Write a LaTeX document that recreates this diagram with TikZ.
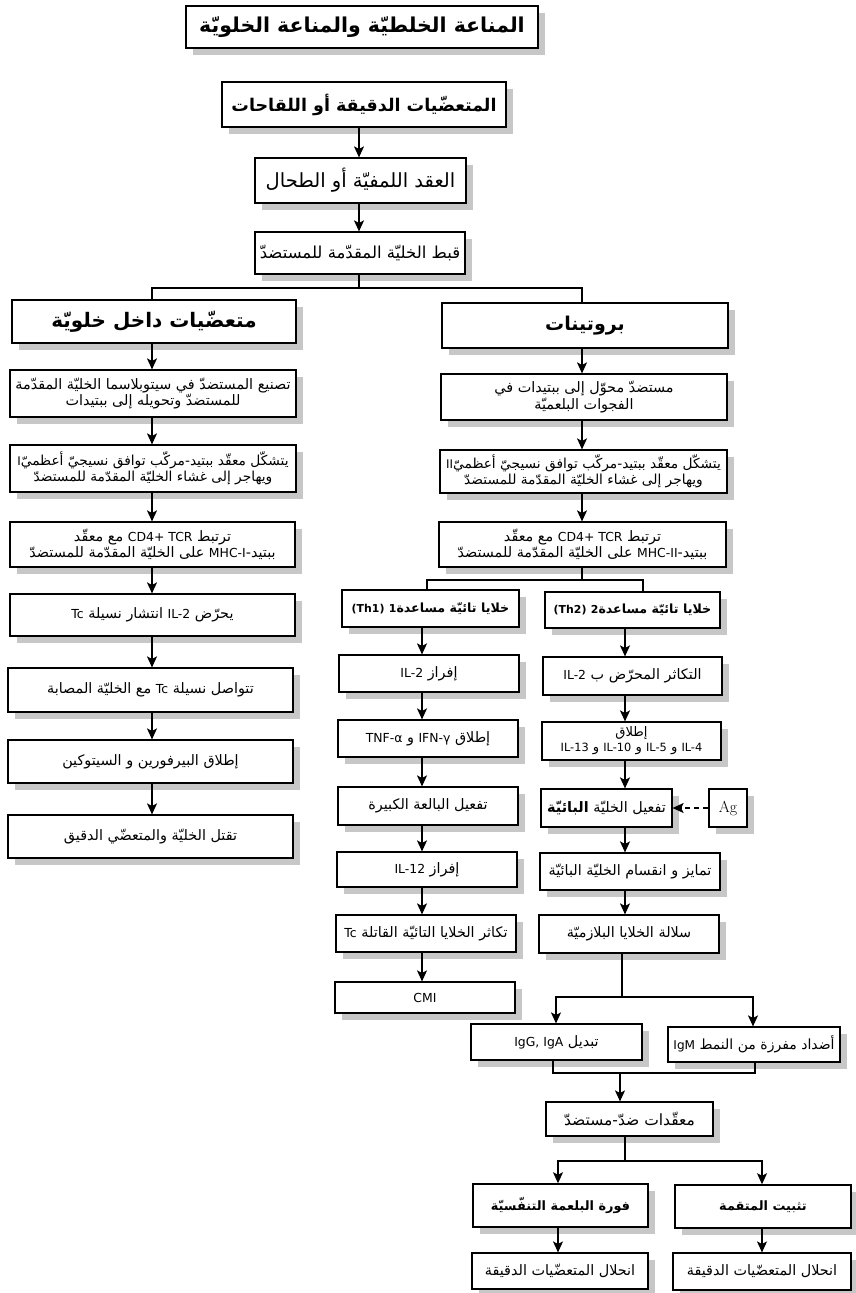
\documentclass[tikz,border=0pt]{standalone}
\usepackage{fontspec}
\usetikzlibrary{shadows,arrows.meta}
\TeXXeTstate=1
\newfontfamily\arfont[Script=Arabic,Scale=1.25]{DejaVu Sans}
\newfontfamily\latfont[Scale=1.08]{DejaVu Sans}
\newcommand\AR[1]{{\arfont\beginR #1\endR}}
\newcommand\LT[1]{\beginL{\latfont #1}\endL{}}
\tikzset{
  box/.style={draw, line width=1.2pt, fill=white, inner sep=1pt, align=center,
    drop shadow={shadow xshift=6.5pt, shadow yshift=-7pt, fill=black!22, opacity=1},
    font=\fontsize{11.5}{16.5}\selectfont},
  hbox/.style={box, line width=2.3pt},
  link/.style={line width=1.1pt},
  arr/.style={line width=1.1pt, -{Stealth[length=11pt,width=10pt,inset=2.5pt]}},
}
\begin{document}
\begin{tikzpicture}[x=1pt,y=-1pt]
\fill[white] (0,0) rectangle (856,1293);
\useasboundingbox (0,0) rectangle (856,1293);
% top chain
\node[hbox, minimum width=352pt, minimum height=42pt, font=\bfseries\fontsize{16.4}{20}\selectfont] (title) at (362,27) {\AR{المناعة الخلطيّة والمناعة الخلويّة}};
\node[hbox, minimum width=284pt, minimum height=45pt, font=\bfseries\fontsize{14}{18}\selectfont] (mo) at (364,104.5) {\AR{المتعضّيات الدقيقة أو اللقاحات}};
\node[box, minimum width=211pt, minimum height=45pt, font=\fontsize{15.6}{19}\selectfont] (lymph) at (360.5,180.5) {\AR{العقد اللمفيّة أو الطحال}};
\node[box, minimum width=210pt, minimum height=42pt, font=\fontsize{13.2}{16}\selectfont] (capt) at (360,253) {\AR{قبط الخليّة المقدّمة للمستضدّ}};
\coordinate (cM) at (359,0);
\draw[arr] (mo.south -| cM) -- (lymph.north -| cM);
\draw[arr] (lymph.south -| cM) -- (capt.north -| cM);
% heads
\node[hbox, minimum width=284pt, minimum height=43pt, font=\bfseries\fontsize{16}{20}\selectfont] (lhead) at (154,321.5) {\AR{متعضّيات داخل خلويّة}};
\node[hbox, minimum width=286pt, minimum height=45pt, font=\bfseries\fontsize{15.2}{20}\selectfont] (rhead) at (585,325.5) {\AR{بروتينات}};
\coordinate (cL) at (152,0);
\coordinate (cR) at (582,0);
\coordinate (jA) at (359,288);
\draw[link] (capt.south -| cM) -- (jA);
\draw[link] (lhead.north -| cL) |- (jA) -| (rhead.north -| cR);
% left column
\node[box, minimum width=286pt, minimum height=47pt] (L1) at (153,393.5) {\AR{تصنيع المستضدّ في سيتوبلاسما الخليّة المقدّمة}\\\AR{للمستضدّ وتحويله إلى ببتيدات}};
\node[box, minimum width=286pt, minimum height=47pt, font=\fontsize{11}{16}\selectfont] (L2) at (153,468.5) {\AR{يتشكّل معقّد ببتيد-مركّب توافق نسيجيّ أعظميّ\LT{I}}\\\AR{ويهاجر إلى غشاء الخليّة المقدّمة للمستضدّ}};
\node[box, minimum width=285pt, minimum height=45pt] (L3) at (152.5,544.5) {\AR{ترتبط \LT{CD4+ TCR} مع معقّد}\\\AR{ببتيد-\LT{MHC-I} على الخليّة المقدّمة للمستضدّ}};
\node[box, minimum width=285pt, minimum height=42pt] (L4) at (152.5,615) {\AR{يحرّض \LT{IL-2} انتشار نسيلة \LT{Tc}}};
\node[box, minimum width=285pt, minimum height=44pt] (L5) at (150.5,690) {\AR{تتواصل نسيلة \LT{Tc} مع الخليّة المصابة}};
\node[box, minimum width=285pt, minimum height=43pt] (L6) at (150.5,761.5) {\AR{إطلاق البيرفورين و السيتوكين}};
\node[box, minimum width=285pt, minimum height=43pt] (L7) at (150.5,836.5) {\AR{تقتل الخليّة والمتعضّي الدقيق}};
\foreach \a/\b in {lhead/L1,L1/L2,L2/L3,L3/L4,L4/L5,L5/L6,L6/L7}
  \draw[arr] (\a.south -| cL) -- (\b.north -| cL);
% right column
\node[box, minimum width=286pt, minimum height=46pt] (R1) at (584,397) {\AR{مستضدّ محوّل إلى ببتيدات في}\\\AR{الفجوات البلعميّة}};
\node[box, minimum width=287pt, minimum height=43pt, font=\fontsize{11}{16}\selectfont] (R2) at (583.5,471.5) {\AR{يتشكّل معقّد ببتيد-مركّب توافق نسيجيّ أعظميّ\LT{II}}\\\AR{ويهاجر إلى غشاء الخليّة المقدّمة للمستضدّ}};
\node[box, minimum width=287pt, minimum height=45pt] (R3) at (582.5,544.5) {\AR{ترتبط \LT{CD4+ TCR} مع معقّد}\\\AR{ببتيد-\LT{MHC-II} على الخليّة المقدّمة للمستضدّ}};
\foreach \a/\b in {rhead/R1,R1/R2,R2/R3}
  \draw[arr] (\a.south -| cR) -- (\b.north -| cR);
% Th1 / Th2
\node[hbox, minimum width=177pt, minimum height=37pt, font=\bfseries\fontsize{10.1}{13}\selectfont] (Th1) at (430.5,608.5) {\AR{خلايا تائيّة مساعدة\LT{1} \LT{(Th1)}}};
\node[hbox, minimum width=175pt, minimum height=36pt, font=\bfseries\fontsize{10.1}{13}\selectfont] (Th2) at (632.5,610) {\AR{خلايا تائيّة مساعدة\LT{2} \LT{(Th2)}}};
\coordinate (jB) at (582,580);
\coordinate (c1s) at (427,0);
\coordinate (c2s) at (643,0);
\draw[link] (R3.south -| cR) -- (jB);
\draw[link] (Th1.north -| c1s) |- (jB) -| (Th2.north -| c2s);
\coordinate (c1) at (422,0);
\coordinate (c2) at (625,0);
\node[box, minimum width=180pt, minimum height=37pt] (Th1a) at (429,673.5) {\AR{إفراز \LT{IL-2}}};
\node[box, minimum width=180pt, minimum height=37pt] (Th1b) at (428,738.5) {\AR{إطلاق \LT{IFN-γ} و \LT{TNF-α}}};
\node[box, minimum width=180pt, minimum height=38pt] (Th1c) at (428,806) {\AR{تفعيل البالعة الكبيرة}};
\node[box, minimum width=180pt, minimum height=35pt] (Th1d) at (427,869.5) {\AR{إفراز \LT{IL-12}}};
\node[box, minimum width=180pt, minimum height=37pt] (Th1e) at (426,933.5) {\AR{تكاثر الخلايا التائيّة القاتلة \LT{Tc}}};
\node[box, minimum width=180pt, minimum height=31pt] (CMI) at (425,997.5) {\latfont CMI};
\foreach \a/\b in {Th1/Th1a,Th1a/Th1b,Th1b/Th1c,Th1c/Th1d,Th1d/Th1e,Th1e/CMI}
  \draw[arr] (\a.south -| c1) -- (\b.north -| c1);
\node[box, minimum width=179pt, minimum height=38pt] (Th2a) at (632.5,676) {\AR{التكاثر المحرّض ب \LT{IL-2}}};
\node[box, minimum width=179pt, minimum height=38pt, font=\fontsize{10.5}{15}\selectfont] (Th2b) at (631.5,741) {\AR{إطلاق}\\\AR{\LT{IL-4} و \LT{IL-5} و \LT{IL-10} و \LT{IL-13}}};
\node[box, minimum width=131pt, minimum height=38pt] (Th2c) at (606.5,808) {\AR{تفعيل الخليّة \textbf{البائيّة}}};
\node[box, minimum width=38pt, minimum height=38pt, font=\rmfamily\fontsize{16}{18}\selectfont] (Ag) at (728,808) {Ag};
\node[box, minimum width=180pt, minimum height=37pt] (Th2d) at (630,871.5) {\AR{تمايز و انقسام الخليّة البائيّة}};
\node[box, minimum width=180pt, minimum height=38pt] (Th2e) at (629,934) {\AR{سلالة الخلايا البلازميّة}};
\foreach \a/\b in {Th2/Th2a,Th2a/Th2b,Th2b/Th2c,Th2c/Th2d,Th2d/Th2e}
  \draw[arr] (\a.south -| c2) -- (\b.north -| c2);
\draw[arr, dash pattern=on 5pt off 4pt] (Ag.west) -- (Th2c.east);
% antibodies
\node[box, minimum width=171pt, minimum height=36pt] (IgG) at (556.5,1042) {\AR{تبديل \LT{IgG, IgA}}};
\node[box, minimum width=172pt, minimum height=35pt, font=\fontsize{11.2}{16}\selectfont] (IgM) at (754,1044.5) {\AR{أضداد مفرزة من النمط \LT{IgM}}};
\coordinate (jC) at (622,997);
\coordinate (cG) at (556,0);
\coordinate (cGm) at (753,0);
\draw[link] (Th2e.south -| jC) -- (jC);
\draw[arr] (jC) -| (IgG.north -| cG);
\draw[arr] (jC) -| (IgM.north -| cGm);
\node[box, minimum width=167pt, minimum height=34pt, font=\fontsize{12.4}{16}\selectfont] (cplx) at (629.5,1119) {\AR{معقّدات ضدّ-مستضدّ}};
\coordinate (jD) at (620,1073);
\coordinate (cGb) at (553,0);
\coordinate (cMb) at (755,0);
\draw[link] (IgG.south -| cGb) |- (jD);
\draw[link] (IgM.south -| cMb) |- (jD);
\draw[arr] (jD) -- (cplx.north -| jD);
% final
\node[box, line width=1.5pt, minimum width=175pt, minimum height=43pt, font=\bfseries\fontsize{10.3}{14}\selectfont] (burst) at (560.5,1205.5) {\AR{فورة البلعمة التنفّسيّة}};
\node[box, line width=1.5pt, minimum width=176pt, minimum height=43pt, font=\bfseries\fontsize{10.3}{14}\selectfont] (compl) at (763,1206.5) {\AR{تثبيت المتقمة}};
\coordinate (jE) at (625,1161);
\coordinate (cBu) at (558,0);
\coordinate (cCo) at (762,0);
\draw[link] (cplx.south -| jE) -- (jE);
\draw[arr] (jE) -| (burst.north -| cBu);
\draw[arr] (jE) -| (compl.north -| cCo);
\node[box, minimum width=176pt, minimum height=36pt] (lys1) at (560,1271) {\AR{انحلال المتعضّيات الدقيقة}};
\node[box, minimum width=178pt, minimum height=37pt] (lys2) at (762,1271.5) {\AR{انحلال المتعضّيات الدقيقة}};
\draw[arr] (burst.south -| cBu) -- (lys1.north -| cBu);
\draw[arr] (compl.south -| cCo) -- (lys2.north -| cCo);
\end{tikzpicture}
\end{document}
